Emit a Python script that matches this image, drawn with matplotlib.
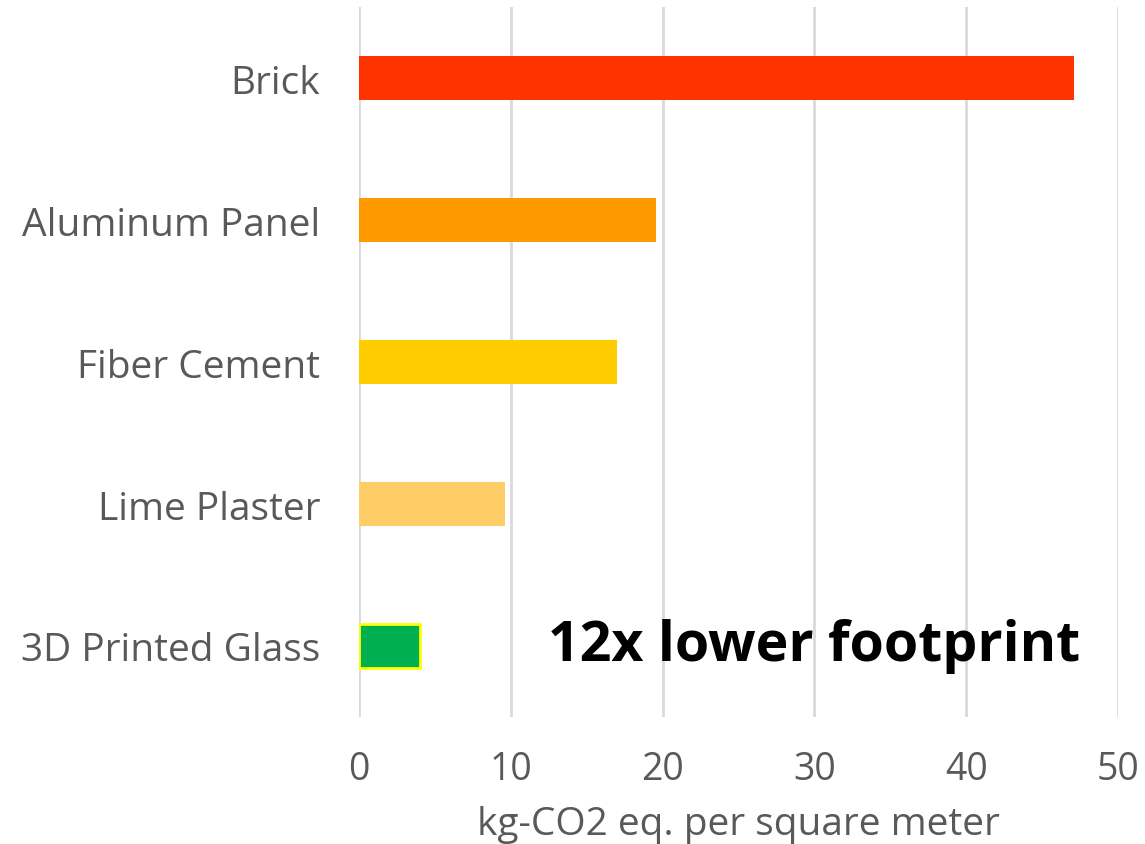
import numpy as np
import matplotlib.pyplot as plt

# materials, top to bottom
materials = ['Brick', 'Aluminum Panel', 'Fiber Cement', 'Lime Plaster', '3D Printed Glass']
footprint = [47.1, 19.6, 17.0, 9.6, 4.0]
colors = ['#FF3300', '#FF9900', '#FFCC00', '#FFCC66', '#00B050']
edges = ['none', 'none', 'none', 'none', '#FFFF00']
xticks = [0, 10, 20, 30, 40, 50]

plt.rcParams['font.family'] = ['Open Sans', 'DejaVu Sans']

fig = plt.figure(figsize=(11.45, 8.45), dpi=100)
ax = fig.add_axes([0.3135, 0.1503, 0.6629, 0.8402])

y = np.arange(len(materials))
ax.barh(y, footprint, height=0.31, color=colors, edgecolor=edges, linewidth=2, zorder=3)

ax.set_ylim(len(materials) - 0.5, -0.5)
ax.set_xlim(0, 50)
ax.set_xticks(xticks)
ax.set_yticks(y)
ax.set_yticklabels(materials)

ax.grid(axis='x', color='#D9D9D9', linewidth=2, zorder=0)
for s in ax.spines.values():
    s.set_visible(False)
ax.tick_params(axis='both', length=0, colors='#595959')
ax.tick_params(axis='y', pad=28, labelsize=28)
ax.tick_params(axis='x', pad=24, labelsize=27)
ax.set_xlabel('kg-CO2 eq. per square meter', fontsize=28, color='#595959', labelpad=12)

ax.text(30.0, 4, '12x lower footprint', fontsize=40, fontweight='bold',
        color='black', ha='center', va='center', zorder=4)

fig.savefig('out.png', dpi=100)
